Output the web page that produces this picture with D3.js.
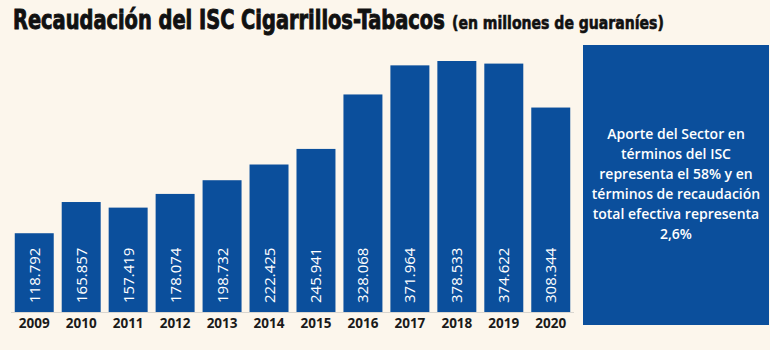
<!DOCTYPE html>
<html><head><meta charset="utf-8">
<script src="https://cdn.jsdelivr.net/npm/d3@7"></script>
<style>
html,body{margin:0;padding:0;background:#fcf6ec;}
svg{display:block;}
</style></head>
<body>
<svg id="c" width="770" height="350"></svg>
<script>
const years = ["2009","2010","2011","2012","2013","2014","2015","2016","2017","2018","2019","2020"];
const values = [118792,165857,157419,178074,198732,222425,245941,328068,371964,378533,374622,308344];
const valueLabels = ["118.792","165.857","157.419","178.074","198.732","222.425","245.941","328.068","371.964","378.533","374.622","308.344"];
const titleMain = "Recaudación del ISC Cigarrillos-Tabacos";
const titleSub = "(en millones de guaraníes)";
const noteLines = ["Aporte del Sector en","términos del ISC","representa el 58% y en","términos de recaudación","total efectiva representa","2,6%"];

const svg = d3.select("#c");
const blue = "#0b4f9c";
svg.append("rect").attr("width",770).attr("height",350).attr("fill","#fcf6ec");

const x = d3.scaleBand().domain(years).range([11, 574]).paddingInner(0.17).paddingOuter(0.08);
const y = d3.scaleLinear().domain([0, d3.max(values)]).range([312, 61]);

// baseline
svg.append("line").attr("x1",11).attr("x2",574).attr("y1",312.5).attr("y2",312.5)
  .attr("stroke","#d9d6d0").attr("stroke-width",1);

svg.selectAll("rect.bar").data(values).join("rect").attr("class","bar")
  .attr("x",(d,i)=>x(years[i])).attr("width",x.bandwidth())
  .attr("y",d=>y(d)).attr("height",d=>y(0)-y(d)).attr("fill",blue);

svg.selectAll("text.val").data(valueLabels).join("text").attr("class","val")
  .attr("transform",(d,i)=>`translate(${x(years[i])+x.bandwidth()/2+5.5},303) rotate(-90)`)
  .attr("fill","#fff").attr("font-family","'Open Sans',sans-serif").attr("font-size",15)
  .attr("text-anchor","start").text(d=>d);

const xAxis = d3.axisBottom(x).tickSize(0).tickPadding(0);
const gx = svg.append("g").attr("transform","translate(0,318)").call(xAxis);
gx.select(".domain").remove();
gx.selectAll("text").attr("font-family","'Open Sans',sans-serif").attr("font-weight",700)
  .attr("font-size",13.5).attr("fill","#1a1a1a").attr("dy","0.75em");

// title, squeezed horizontally to mimic a compressed heavy face
function fitText(str, x0, y0, size, width, sw){
  const t = svg.append("text").attr("x",0).attr("y",0).attr("fill","#111").attr("stroke","#111")
    .attr("stroke-width",sw).attr("font-family","'DejaVu Sans Condensed','DejaVu Sans',sans-serif")
    .attr("font-weight",700).attr("font-size",size).text(str);
  const w = t.node().getComputedTextLength();
  t.attr("transform",`translate(${x0},${y0}) scale(${width/w},1)`);
}
fitText(titleMain, 13, 29, 26, 432, 0.9);
fitText(titleSub, 452, 29, 18, 212, 0.6);

// note box
svg.append("rect").attr("x",583).attr("y",45).attr("width",186).attr("height",280).attr("fill",blue);
svg.append("g").selectAll("text").data(noteLines).join("text")
  .attr("x",676).attr("y",(d,i)=>139+i*20).attr("text-anchor","middle")
  .attr("fill","#fff").attr("font-family","'Open Sans',sans-serif").attr("font-weight",600)
  .attr("font-size",14).text(d=>d);
</script>
</body></html>
